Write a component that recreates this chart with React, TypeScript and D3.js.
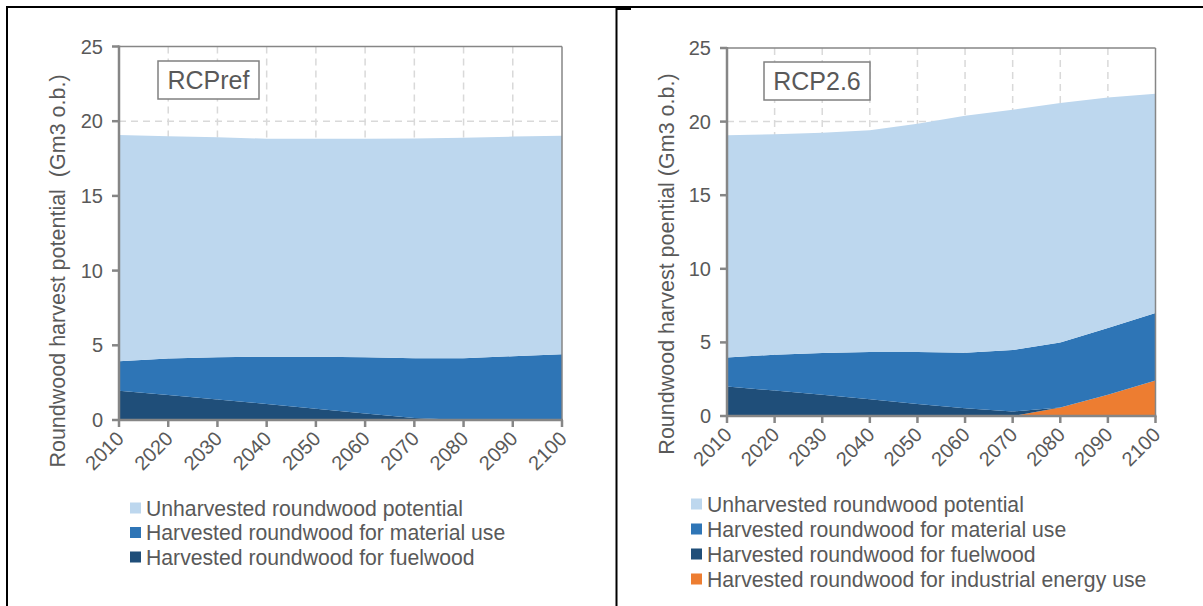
import React from "react";
import * as d3 from "d3";

const years = [2010, 2020, 2030, 2040, 2050, 2060, 2070, 2080, 2090, 2100];
const yTicks = [0, 5, 10, 15, 20, 25];

// RCPref (Gm3 o.b.)
const refFuelwood = [1.96, 1.67, 1.38, 1.07, 0.76, 0.44, 0.13, 0, 0, 0];
const refMaterial = [1.97, 2.44, 2.82, 3.17, 3.48, 3.76, 4.0, 4.13, 4.27, 4.4];
const refUnharvested = [15.15, 14.89, 14.72, 14.59, 14.58, 14.63, 14.72, 14.77, 14.7, 14.63];

// RCP2.6 (Gm3 o.b.)
const rcpIndustrial = [0, 0, 0, 0, 0, 0, 0, 0.57, 1.44, 2.41];
const rcpFuelwood = [2.0, 1.73, 1.44, 1.14, 0.82, 0.53, 0.31, 0, 0, 0];
const rcpMaterial = [1.98, 2.43, 2.84, 3.21, 3.53, 3.76, 4.17, 4.43, 4.54, 4.59];
const rcpUnharvested = [15.09, 14.98, 14.97, 15.06, 15.51, 16.11, 16.33, 16.26, 15.65, 14.9];

const seriesNames = [
  "Unharvested roundwood potential",
  "Harvested roundwood for material use",
  "Harvested roundwood for fuelwood",
  "Harvested roundwood for industrial energy use",
];
const seriesColors = ["#BDD7EE", "#2E75B6", "#1F4E79", "#ED7D31"];

const FONT = "'Liberation Sans', Arial, sans-serif";
const TXT = "#595959";
const AXIS = "#868686";
const GRID = "#D9D9D9";

type PanelProps = {
  x0: number; x1: number; yTop: number; yBot: number;
  label: string; labelBox: [number, number, number, number];
  yTitle: string; yTitleX: number; yTitleY: number;
  layers: { key: number; values: number[] }[]; // bottom -> top, key = series index
  legendX: number; legendY: number; legendStep: number; legendCount: number;
};

function Panel(p: PanelProps) {
  const x = d3.scaleLinear().domain([2010, 2100]).range([p.x0, p.x1]);
  const y = d3.scaleLinear().domain([0, 25]).range([p.yBot, p.yTop]);
  const rows = years.map((yr, i) => {
    const r: any = { year: yr };
    p.layers.forEach((l) => (r["s" + l.key] = l.values[i]));
    return r;
  });
  const stack = d3.stack<any>().keys(p.layers.map((l) => "s" + l.key));
  const stacked = stack(rows);
  const area = d3
    .area<any>()
    .x((d) => x(d.data.year))
    .y0((d) => y(d[0]))
    .y1((d) => y(d[1]));

  return (
    <g>
      {/* grid */}
      {yTicks.filter((t) => t > 0 && t < 25).map((t) => (
        <line key={"gy" + t} x1={p.x0} x2={p.x1} y1={y(t)} y2={y(t)} stroke={GRID} strokeWidth={1.5} strokeDasharray="7,5" />
      ))}
      {years.filter((yr) => yr > 2010 && yr < 2100).map((yr) => (
        <line key={"gx" + yr} x1={x(yr)} x2={x(yr)} y1={p.yTop} y2={p.yBot} stroke={GRID} strokeWidth={1.5} strokeDasharray="7,5" />
      ))}
      {/* areas */}
      {stacked.map((s, i) => (
        <path key={s.key} d={area(s) || ""} fill={seriesColors[p.layers[i].key]} />
      ))}
      {/* frame top/right */}
      <line x1={p.x0} x2={p.x1} y1={p.yTop} y2={p.yTop} stroke={AXIS} strokeWidth={1.5} />
      <line x1={p.x1} x2={p.x1} y1={p.yTop} y2={p.yBot} stroke={AXIS} strokeWidth={1.5} />
      {/* axes */}
      <line x1={p.x0} x2={p.x0} y1={p.yTop - 1} y2={p.yBot + 1} stroke={AXIS} strokeWidth={2.5} />
      <line x1={p.x0 - 1} x2={p.x1 + 1} y1={p.yBot} y2={p.yBot} stroke={AXIS} strokeWidth={2.5} />
      {yTicks.map((t) => (
        <g key={"yt" + t}>
          <line x1={p.x0 - 7} x2={p.x0} y1={y(t)} y2={y(t)} stroke={AXIS} strokeWidth={2.5} />
          <text x={p.x0 - 16} y={y(t) + 7} textAnchor="end" fontSize={20} fill={TXT} fontFamily={FONT}>{t}</text>
        </g>
      ))}
      {years.map((yr) => (
        <g key={"xt" + yr}>
          <line x1={x(yr)} x2={x(yr)} y1={p.yBot} y2={p.yBot + 7} stroke={AXIS} strokeWidth={2.5} />
          <text transform={`translate(${x(yr) + 6},${p.yBot + 20}) rotate(-45)`} textAnchor="end" fontSize={20} fill={TXT} fontFamily={FONT}>{yr}</text>
        </g>
      ))}
      {/* y title */}
      <text transform={`translate(${p.yTitleX},${p.yTitleY}) rotate(-90)`} textAnchor="middle" fontSize={21.5} fill={TXT} fontFamily={FONT} style={{ whiteSpace: "pre" }}>{p.yTitle}</text>
      {/* label box */}
      <rect x={p.labelBox[0]} y={p.labelBox[1]} width={p.labelBox[2]} height={p.labelBox[3]} fill="white" stroke="#808080" strokeWidth={1.5} />
      <text x={p.labelBox[0] + p.labelBox[2] / 2} y={p.labelBox[1] + 28} textAnchor="middle" fontSize={25} fill={TXT} fontFamily={FONT}>{p.label}</text>
      {/* legend */}
      {seriesNames.slice(0, p.legendCount).map((n, i) => (
        <g key={"lg" + i}>
          <rect x={p.legendX} y={p.legendY + i * p.legendStep - 5.5} width={11} height={11} fill={seriesColors[i]} />
          <text x={p.legendX + 16} y={p.legendY + i * p.legendStep + 7.5} fontSize={21.2} fill={TXT} fontFamily={FONT}>{n}</text>
        </g>
      ))}
    </g>
  );
}

export default function App() {
  return (
    <svg width={1203} height={606} style={{ position: "absolute", left: 0, top: 0, background: "white" }}>
      <rect x={0} y={0} width={1203} height={606} fill="white" />
      {/* table borders */}
      <line x1={7} x2={1203} y1={7} y2={7} stroke="#000" strokeWidth={2} />
      <line x1={7} x2={7} y1={6} y2={606} stroke="#000" strokeWidth={2} />
      <line x1={616.5} x2={616.5} y1={6} y2={606} stroke="#000" strokeWidth={2} />
      <line x1={616} x2={631} y1={9} y2={9} stroke="#000" strokeWidth={2} />
      <Panel
        x0={119} x1={562} yTop={46.5} yBot={420}
        label="RCPref" labelBox={[158, 61, 101, 38]}
        yTitle={"Roundwood harvest potential  (Gm3 o.b.)"} yTitleX={65} yTitleY={271}
        layers={[{ key: 2, values: refFuelwood }, { key: 1, values: refMaterial }, { key: 0, values: refUnharvested }]}
        legendX={130} legendY={508} legendStep={24.5} legendCount={3}
      />
      <Panel
        x0={727} x1={1155.5} yTop={48} yBot={416}
        label="RCP2.6" labelBox={[764, 62, 106, 38]}
        yTitle={"Roundwood harvest poential (Gm3 o.b.)"} yTitleX={674} yTitleY={264}
        layers={[{ key: 3, values: rcpIndustrial }, { key: 2, values: rcpFuelwood }, { key: 1, values: rcpMaterial }, { key: 0, values: rcpUnharvested }]}
        legendX={691} legendY={504} legendStep={25} legendCount={4}
      />
    </svg>
  );
}
